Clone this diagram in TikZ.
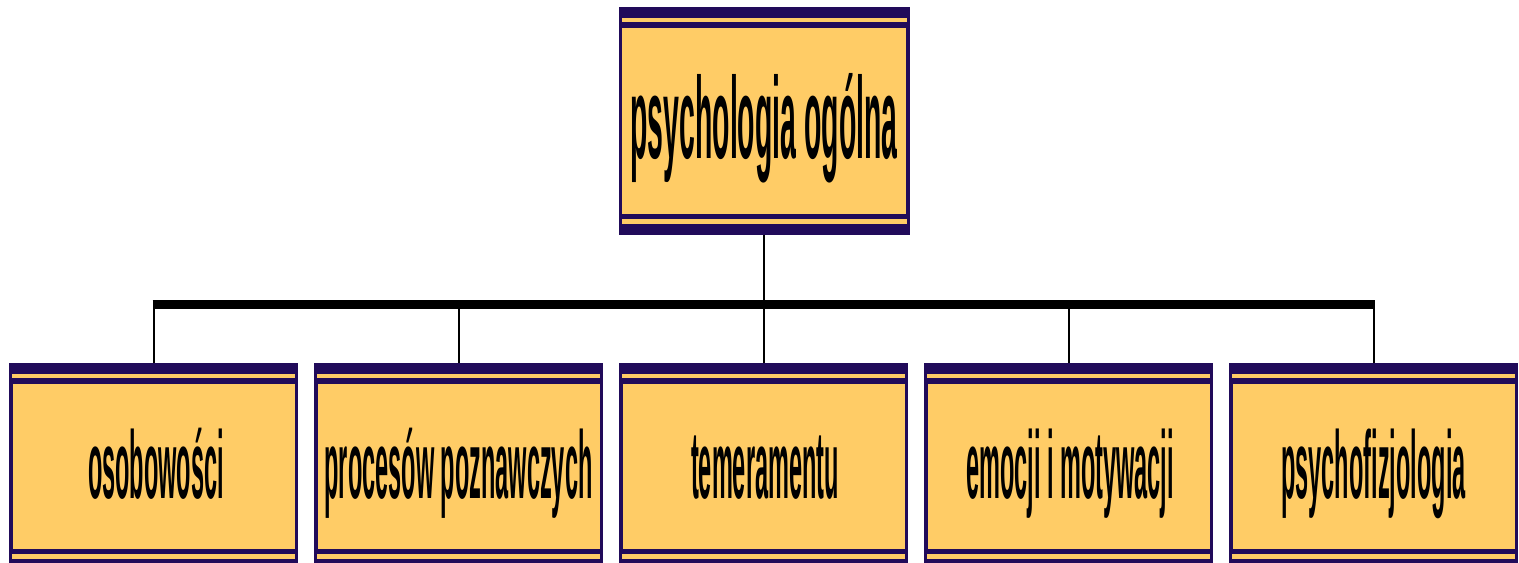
\documentclass[tikz,border=0pt]{standalone}
\usepackage{fontspec}
\setmainfont{Liberation Sans}
\usepackage{xcolor}
\usepackage{tikz}

\definecolor{navy}{RGB}{33,11,90}
\definecolor{gold}{RGB}{255,204,102}
\newcommand{\narrow}[2]{\scalebox{0.245}[1]{\fontsize{#1}{#1}\selectfont\bfseries #2}}

\begin{document}
\begin{tikzpicture}[x=0.5pt,y=-0.5pt,
    panel/.style={draw=navy,fill=gold,line width=1.5pt,inner sep=0pt},
    caption/.style={anchor=base,inner sep=0pt},
    wire/.style={line width=1pt}]
    \useasboundingbox (0,0) rectangle (1519,562);
    \clip (0,0) rectangle (1519,562);
    % boxes
    \node[panel,minimum width=144pt,minimum height=112.5pt] (root) at (764,120.5) {};
    \node[panel,minimum width=143pt,minimum height=102pt] (osob) at (153.5,466) {};
    \node[panel,minimum width=143pt,minimum height=102pt] (proc) at (458.5,466) {};
    \node[panel,minimum width=143pt,minimum height=102pt] (temp) at (763.5,466) {};
    \node[panel,minimum width=143pt,minimum height=102pt] (emoc) at (1068.5,466) {};
    \node[panel,minimum width=143pt,minimum height=102pt] (fizj) at (1373.5,466) {};
    \foreach \n in {root,osob,proc,temp,emoc,fizj} {
        \fill[navy] (\n.north west) rectangle ([yshift=-5.5pt]\n.north east);
        \fill[navy] (\n.south west) rectangle ([yshift=5.5pt]\n.south east);
        \draw[navy,line width=0.5pt] ([xshift=1.5pt,yshift=-9pt]\n.north west) rectangle ([xshift=-1.5pt,yshift=9pt]\n.south east);
        \fill[navy] ([xshift=1.5pt,yshift=-7.8pt]\n.north west) rectangle ([xshift=-1.5pt,yshift=-10.5pt]\n.north east);
        \fill[navy] ([xshift=1.5pt,yshift=7.8pt]\n.south west) rectangle ([xshift=-1.5pt,yshift=10.5pt]\n.south east);
    }
    % labels
    \node[caption] (root-l) at (764,158) {\narrow{58}{psychologia ogólna}};
    \node[caption] (osob-l) at (156,498) {\narrow{48}{osobowości}};
    \node[caption] (proc-l) at (458.5,498) {\narrow{48}{procesów poznawczych}};
    \node[caption] (temp-l) at (765,498) {\narrow{48}{temeramentu}};
    \node[caption] (emoc-l) at (1070,498) {\narrow{48}{emocji i motywacji}};
    \node[caption] (fizj-l) at (1373.5,498) {\narrow{48}{psychofizjologia}};
    % bus
    \coordinate (b1) at (osob.north |- 0,304);
    \coordinate (b5) at (fizj.north |- 0,304);
    \draw[wire] (root.south) -- (root.south |- b1);
    \draw[line width=4.5pt] ([xshift=-0.5pt]b1) -- ([xshift=0.5pt]b5);
    \foreach \n in {osob,proc,temp,emoc,fizj}
        \draw[wire] (\n.north |- b1) -- (\n.north);
\end{tikzpicture}
\end{document}
